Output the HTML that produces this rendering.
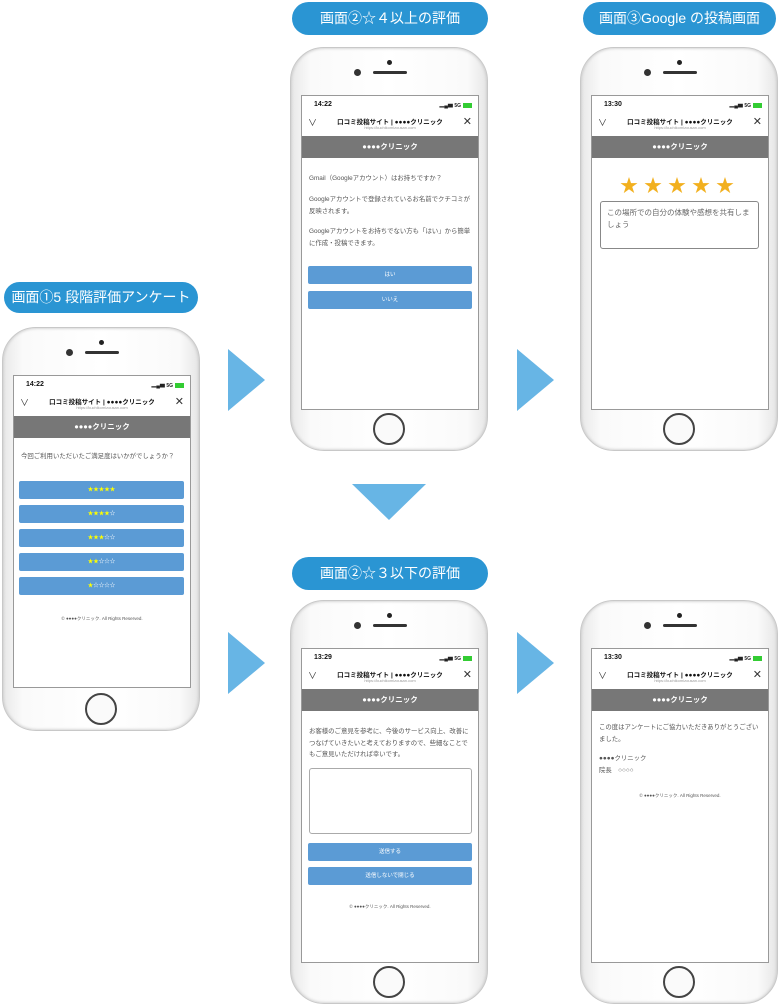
<!DOCTYPE html>
<html><head><meta charset="utf-8"><style>
*{margin:0;padding:0;box-sizing:border-box}
body{width:780px;height:1004px;background:#fff;position:relative;overflow:hidden;font-family:"Liberation Sans","Noto Sans CJK JP",sans-serif}
.pill{position:absolute;background:#2a95d3;color:#fff;border-radius:17px;text-align:center;font-size:14px;line-height:33px;height:33px}
.phone{position:absolute;width:198px;height:404px;border-radius:34px;background:linear-gradient(90deg,#e8e8e8,#fafafa 10%,#fff 50%,#fafafa 90%,#e6e6e6);border:1px solid #c8c8c8;box-shadow:inset 0 0 3px #bbb}
.dot{position:absolute;left:96px;top:12px;width:5px;height:5px;border-radius:50%;background:#222}
.cam{position:absolute;left:63px;top:21px;width:7px;height:7px;border-radius:50%;background:#333}
.spk{position:absolute;left:82px;top:23px;width:34px;height:3px;border-radius:2px;background:#333}
.home{position:absolute;left:82px;top:365px;width:32px;height:32px;border-radius:50%;border:2px solid #444;background:#fafafa}
.scr{position:absolute;left:10px;top:47px;width:178px;height:313px;background:#fff;border:1px solid #999;overflow:hidden}
.t{position:absolute;font-size:7px;font-weight:bold;color:#111}
.sig{position:absolute;right:6px;top:6px;font-size:5px;color:#222;font-weight:bold}
.bat{display:inline-block;width:9px;height:5px;background:#3c3;vertical-align:middle;margin-left:2px}
.ttl{position:absolute;left:0;width:100%;top:20px;text-align:center;font-size:6.5px;font-weight:bold;color:#111}
.url{position:absolute;left:0;width:100%;top:29px;text-align:center;font-size:4px;color:#999}
.chev{position:absolute;left:6px;top:20px;font-size:9px;color:#333}
.x{position:absolute;right:6px;top:19px;font-size:11px;color:#333}
.bar{position:absolute;left:0;top:40px;width:100%;height:22px;background:#777;color:#fff;font-size:7.5px;font-weight:bold;text-align:center;line-height:22px}
.tx{position:absolute;left:7px;right:6px;font-size:6.4px;color:#555;line-height:11.5px}
.btn{position:absolute;left:6px;right:6px;height:18px;background:#5b9bd5;border-radius:2px;color:#fff;font-size:5.5px;text-align:center;line-height:18px}
.btn b{color:#ff0;font-weight:normal}
.cp{position:absolute;left:0;width:100%;text-align:center;font-size:4.5px;color:#555}
.ar{position:absolute;width:0;height:0;border-top:31px solid transparent;border-bottom:31px solid transparent;border-left:37px solid #67b5e5}
</style></head><body>

<div class="pill" style="left:4px;top:282px;width:194px;height:31px;line-height:31px">画面①5 段階評価アンケート</div>
<div class="pill" style="left:292px;top:2px;width:196px">画面②☆４以上の評価</div>
<div class="pill" style="left:583px;top:2px;width:193px">画面③Google の投稿画面</div>
<div class="pill" style="left:292px;top:557px;width:196px">画面②☆３以下の評価</div>

<div class="ar" style="left:228px;top:349px"></div>
<div class="ar" style="left:517px;top:349px"></div>
<div class="ar" style="left:228px;top:632px"></div>
<div class="ar" style="left:517px;top:632px"></div>
<div style="position:absolute;left:352px;top:484px;width:0;height:0;border-left:37px solid transparent;border-right:37px solid transparent;border-top:36px solid #67b5e5"></div>

<!-- phone 1 -->
<div class="phone" style="left:2px;top:327px">
<div class="dot"></div><div class="cam"></div><div class="spk"></div><div class="home"></div>
<div class="scr">
<div class="t" style="left:12px;top:5px">14:22</div><div class="sig">▂▄▆ 5G<span class="bat"></span></div>
<div class="chev">∨</div><div class="ttl">口コミ投稿サイト | ●●●●クリニック</div><div class="url">https://kuchikomizousan.com</div><div class="x">✕</div>
<div class="bar">●●●●クリニック</div>
<div class="tx" style="top:75px">今回ご利用いただいたご満足度はいかがでしょうか？</div>
<div class="btn" style="top:105px;left:5px"><b>★★★★★</b></div>
<div class="btn" style="top:129px;left:5px"><b>★★★★</b>☆</div>
<div class="btn" style="top:153px;left:5px"><b>★★★</b>☆☆</div>
<div class="btn" style="top:177px;left:5px"><b>★★</b>☆☆☆</div>
<div class="btn" style="top:201px;left:5px"><b>★</b>☆☆☆☆</div>
<div class="cp" style="top:240px">© ●●●●クリニック. All Rights Reserved.</div>
</div></div>

<!-- phone 2 -->
<div class="phone" style="left:290px;top:47px">
<div class="dot"></div><div class="cam"></div><div class="spk"></div><div class="home"></div>
<div class="scr" style="height:315px">
<div class="t" style="left:12px;top:5px">14:22</div><div class="sig">▂▄▆ 5G<span class="bat"></span></div>
<div class="chev">∨</div><div class="ttl">口コミ投稿サイト | ●●●●クリニック</div><div class="url">https://kuchikomizousan.com</div><div class="x">✕</div>
<div class="bar">●●●●クリニック</div>
<div class="tx" style="top:77px">Gmail（Googleアカウント）はお持ちですか？</div>
<div class="tx" style="top:98px">Googleアカウントで登録されているお名前でクチコミが反映されます。</div>
<div class="tx" style="top:130px">Googleアカウントをお持ちでない方も「はい」から簡単に作成・投稿できます。</div>
<div class="btn" style="top:170px">はい</div>
<div class="btn" style="top:195px">いいえ</div>
</div></div>

<!-- phone 3 -->
<div class="phone" style="left:580px;top:47px">
<div class="dot"></div><div class="cam"></div><div class="spk"></div><div class="home"></div>
<div class="scr" style="height:315px">
<div class="t" style="left:12px;top:5px">13:30</div><div class="sig">▂▄▆ 5G<span class="bat"></span></div>
<div class="chev">∨</div><div class="ttl">口コミ投稿サイト | ●●●●クリニック</div><div class="url">https://kuchikomizousan.com</div><div class="x">✕</div>
<div class="bar">●●●●クリニック</div>
<div style="position:absolute;left:0;width:100%;top:76px;text-align:center;color:#f2b01e;font-size:18px;letter-spacing:6px">★★★★★</div>
<div style="position:absolute;left:8px;top:105px;width:159px;height:48px;border:1px solid #888;border-radius:3px;font-size:7.5px;color:#666;padding:5px 6px;line-height:12px">この場所での自分の体験や感想を共有しましょう</div>
</div></div>

<!-- phone 4 -->
<div class="phone" style="left:290px;top:600px">
<div class="dot"></div><div class="cam"></div><div class="spk"></div><div class="home"></div>
<div class="scr" style="height:315px">
<div class="t" style="left:12px;top:5px">13:29</div><div class="sig">▂▄▆ 5G<span class="bat"></span></div>
<div class="chev">∨</div><div class="ttl">口コミ投稿サイト | ●●●●クリニック</div><div class="url">https://kuchikomizousan.com</div><div class="x">✕</div>
<div class="bar">●●●●クリニック</div>
<div class="tx" style="top:77px">お客様のご意見を参考に、今後のサービス向上、改善につなげていきたいと考えておりますので、些細なことでもご意見いただければ幸いです。</div>
<div style="position:absolute;left:7px;top:119px;width:163px;height:66px;border:1px solid #aaa;border-radius:3px"></div>
<div class="btn" style="top:194px">送信する</div>
<div class="btn" style="top:218px">送信しないで閉じる</div>
<div class="cp" style="top:255px">© ●●●●クリニック. All Rights Reserved.</div>
</div></div>

<!-- phone 5 -->
<div class="phone" style="left:580px;top:600px">
<div class="dot"></div><div class="cam"></div><div class="spk"></div><div class="home"></div>
<div class="scr" style="height:315px">
<div class="t" style="left:12px;top:5px">13:30</div><div class="sig">▂▄▆ 5G<span class="bat"></span></div>
<div class="chev">∨</div><div class="ttl">口コミ投稿サイト | ●●●●クリニック</div><div class="url">https://kuchikomizousan.com</div><div class="x">✕</div>
<div class="bar">●●●●クリニック</div>
<div class="tx" style="top:73px">この度はアンケートにご協力いただきありがとうございました。</div>
<div class="tx" style="top:104px">●●●●クリニック<br>院長　○○○○</div>
<div class="cp" style="top:144px">© ●●●●クリニック. All Rights Reserved.</div>
</div></div>

</body></html>
